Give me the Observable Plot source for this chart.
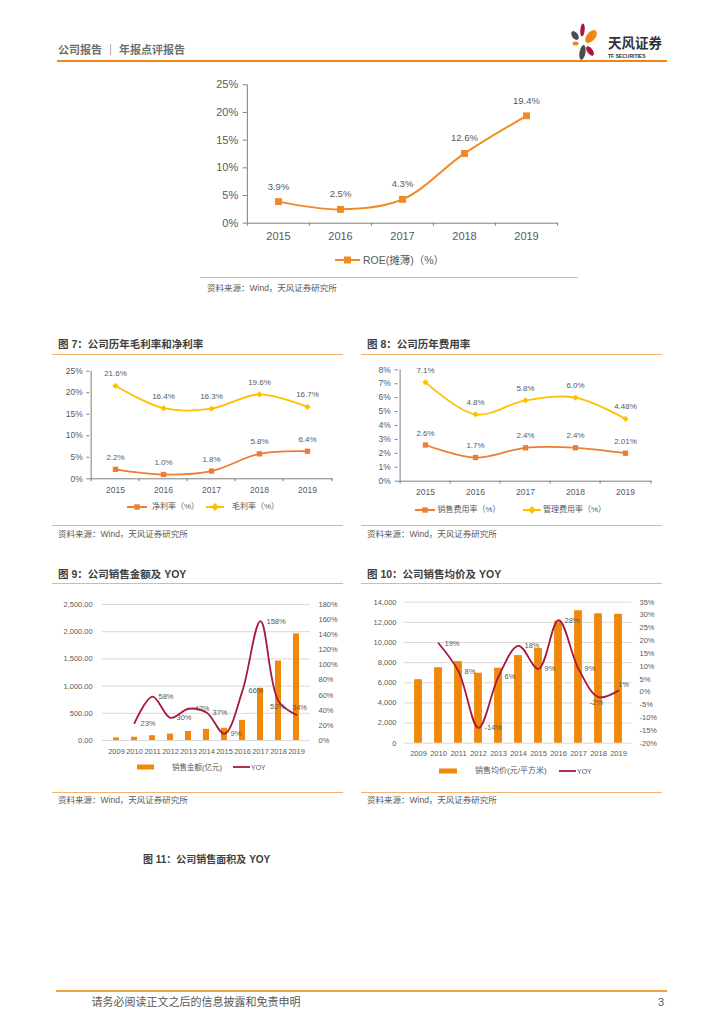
<!DOCTYPE html>
<html><head><meta charset="utf-8">
<script src="https://cdn.jsdelivr.net/npm/d3@7"></script>
<script src="https://cdn.jsdelivr.net/npm/@observablehq/plot@0.6"></script>
<style>
body{margin:0;background:#fff;}
#page{position:relative;width:724px;height:1024px;overflow:hidden;background:#fff;font-family:"Liberation Sans","Noto Sans CJK SC",sans-serif;}
.t{position:absolute;white-space:nowrap;}
</style></head>
<body><div id="page"></div>
<script>
// ---------- data ----------
const roeYears = ["2015","2016","2017","2018","2019"];
const roeValues = [3.9, 2.5, 4.3, 12.6, 19.4];
const roeTicks = [0,5,10,15,20,25];

const marginYears = ["2015","2016","2017","2018","2019"];
const netMargin = [2.2, 1.0, 1.8, 5.8, 6.4];
const grossMargin = [21.6, 16.4, 16.3, 19.6, 16.7];
const marginTicks = [0,5,10,15,20,25];

const expenseYears = ["2015","2016","2017","2018","2019"];
const sellingRate = [2.6, 1.7, 2.4, 2.4, 2.01];
const adminRate = [7.1, 4.8, 5.8, 6.0, 4.48];
const expenseTicks = [0,1,2,3,4,5,6,7,8];

const salesYears = ["2009","2010","2011","2012","2013","2014","2015","2016","2017","2018","2019"];
const salesAmount = [48, 60, 88, 118, 165, 205, 225, 370, 960, 1460, 1960];
const salesYoy = [null, 23, 58, 30, 42, 37, 9, 66, 158, 52, 34];
const salesLeftTicks = [0,500,1000,1500,2000,2500];
const salesRightTicks = [0,20,40,60,80,100,120,140,160,180];

const priceYears = ["2009","2010","2011","2012","2013","2014","2015","2016","2017","2018","2019"];
const avgPrice = [6300, 7500, 8100, 6950, 7450, 8700, 9400, 12100, 13150, 12850, 12800];
const priceYoy = [null, 19, 8, -14, 6, 18, 9, 28, 9, -2, 0.5];
const priceLeftTicks = [0,2000,4000,6000,8000,10000,12000,14000];
const priceRightTicks = [-20,-15,-10,-5,0,5,10,15,20,25,30,35];

// ---------- style ----------
const FONT = '"Liberation Sans","Noto Sans CJK SC",sans-serif';
const TEXT = "#595959";
const AXIS = "#7f7f7f";
const ORANGE = "#F08A24";
const ORANGE2 = "#ED7D31";
const YELLOW = "#FFC000";
const BAR = "#F0880A";
const RED = "#A8183F";
const SEP = "#F6B173";

const page = document.getElementById("page");
function txt(s, x, yc, size, o = {}) {
  const d = document.createElement("div");
  d.className = "t"; d.textContent = s;
  d.style.fontSize = size + "px"; d.style.lineHeight = size + "px";
  d.style.top = (yc - size / 2) + "px";
  if (o.anchor === "end") d.style.right = (724 - x) + "px"; else d.style.left = x + "px";
  d.style.color = o.color || TEXT;
  if (o.bold) d.style.fontWeight = "bold";
  page.appendChild(d); return d;
}
function hline(x1, x2, y, w, color) {
  const d = document.createElement("div");
  Object.assign(d.style, {position:"absolute", left:x1+"px", top:(y-w/2)+"px", width:(x2-x1)+"px", height:w+"px", background:color});
  page.appendChild(d);
}
function place(node, x, y) {
  node.style.position = "absolute"; node.style.left = x + "px"; node.style.top = y + "px";
  page.appendChild(node);
}
function swatch(x, yc, w, kind, color) {
  const s = d3.create("svg").attr("width", w).attr("height", 12);
  if (kind === "rect") {
    s.append("rect").attr("x", 0).attr("y", 3.5).attr("width", w).attr("height", 5).attr("fill", color);
  } else {
    s.append("line").attr("x1", 0).attr("x2", w).attr("y1", 6).attr("y2", 6).attr("stroke", color).attr("stroke-width", kind === "line" ? 1.8 : 2);
    if (kind === "square") s.append("rect").attr("x", w/2-3.5).attr("y", 2.5).attr("width", 7).attr("height", 7).attr("fill", color);
    if (kind === "square-s") s.append("rect").attr("x", w/2-2.7).attr("y", 3.3).attr("width", 5.4).attr("height", 5.4).attr("fill", color);
    if (kind === "diamond") s.append("path").attr("d", `M${w/2},2 L${w/2+4},6 L${w/2},10 L${w/2-4},6Z`).attr("fill", color);
  }
  place(s.node(), x, yc - 6);
}
function boundaryTicks(cats, step, len) {
  return [
    Plot.ruleX(cats, {x: d => d, y1: 0, y2: 0, insetBottom: -len, dx: -step/2, stroke: AXIS}),
    Plot.ruleX(cats.slice(-1), {x: d => d, y1: 0, y2: 0, insetBottom: -len, dx: step/2, stroke: AXIS})
  ];
}

// ---------- header ----------
txt("公司报告 ｜ 年报点评报告", 58, 50, 11, {bold: true, color: "#6f6f6f"});
hline(57, 667, 61, 2, "#F08519");
{
  const s = d3.create("svg").attr("width", 45).attr("height", 45);
  const g = s.append("g").attr("transform", "translate(-565,-20)");
  const petals = [
    [575, 35.5, 3, 5, -35, "#4D4D4D"],
    [582.5, 30, 2.2, 6.5, 5, "#A8183C"],
    [591, 36.5, 4.3, 7.5, 40, "#F08519"],
    [575.5, 43.5, 3, 2, 0, "#F08519"],
    [582.5, 52.5, 3, 7.5, 10, "#4D4D4D"],
    [590, 51, 2.8, 5.5, -35, "#A8183C"]
  ];
  for (const [cx, cy, rx, ry, rot, c] of petals)
    g.append("ellipse").attr("cx", cx).attr("cy", cy).attr("rx", rx).attr("ry", ry)
      .attr("transform", `rotate(${rot},${cx},${cy})`).attr("fill", c);
  place(s.node(), 565, 20);
}
txt("天风证券", 608, 44, 13.5, {bold: true, color: "#333"});
txt("TF SECURITIES", 608, 56.5, 5, {bold: true, color: "#333"});

// ---------- chart 1: ROE ----------
{
  const W = 380, H = 180, mL = 46.7, mR = 22, mT = 14.3, mB = 27.3;
  const step = (W - mL - mR) / roeYears.length;
  const data = roeYears.map((year, i) => ({year, v: roeValues[i]}));
  const svg = Plot.plot({
    width: W, height: H, marginLeft: mL, marginRight: mR, marginTop: mT, marginBottom: mB,
    style: {fontFamily: FONT, color: TEXT, background: "transparent", overflow: "visible"},
    x: {type: "band", domain: roeYears, padding: 0},
    y: {domain: [0, 25]},
    marks: [
      Plot.axisY(roeTicks, {tickFormat: d => d + "%", tickSize: 4, tickPadding: 5, fontSize: 11, stroke: AXIS, label: null}),
      Plot.axisX({tickSize: 0, tickPadding: 9, fontSize: 11, label: null}),
      Plot.ruleY([0], {stroke: AXIS}),
      Plot.ruleX(roeYears.slice(0, 1), {x: d => d, dx: -step/2, stroke: AXIS}),
      ...boundaryTicks(roeYears, step, 3),
      Plot.line(data, {x: "year", y: "v", curve: "catmull-rom", stroke: ORANGE, strokeWidth: 2}),
      Plot.dot(data, {x: "year", y: "v", symbol: "square", r: 3.9, fill: ORANGE}),
      Plot.text(data, {x: "year", y: "v", text: d => d.v.toFixed(1) + "%", dy: -15, fontSize: 9.5, fill: TEXT})
    ]
  });
  place(svg, 200, 70);
  swatch(335, 260, 25, "square", ORANGE);
  txt("ROE(摊薄)（%）", 363, 260, 10.5);
  hline(200, 578, 277.7, 1.3, SEP);
  txt("资料来源：Wind，天风证券研究所", 207, 288.5, 8.5);
}

// ---------- line charts 7 & 8 ----------
function lineChart({left, top, W, H, mL, mR, mT, mB, years, series, yMax, yTicks, tickPad}) {
  const step = (W - mL - mR) / years.length;
  const marks = [
    Plot.axisY(yTicks, {tickFormat: d => d + "%", tickSize: 3, tickPadding: tickPad, fontSize: 8.5, stroke: AXIS, label: null}),
    Plot.axisX({tickSize: 0, tickPadding: 8, fontSize: 8.5, label: null}),
    Plot.ruleY([0], {stroke: AXIS}),
    Plot.ruleX(years.slice(0, 1), {x: d => d, dx: -step/2, stroke: AXIS}),
    ...boundaryTicks(years, step, 3)
  ];
  for (const s of series) {
    const data = years.map((year, i) => ({year, v: s.values[i]}));
    marks.push(
      Plot.line(data, {x: "year", y: "v", curve: "catmull-rom", stroke: s.color, strokeWidth: 1.8}),
      Plot.dot(data, {x: "year", y: "v", symbol: s.symbol, r: s.r, fill: s.color}),
      Plot.text(data, {x: "year", y: "v", text: d => s.fmt(d.v) + "%", dy: -12, fontSize: 8, fill: TEXT})
    );
  }
  const svg = Plot.plot({
    width: W, height: H, marginLeft: mL, marginRight: mR, marginTop: mT, marginBottom: mB,
    style: {fontFamily: FONT, color: TEXT, background: "transparent", overflow: "visible"},
    x: {type: "band", domain: years, padding: 0},
    y: {domain: [0, yMax]},
    marks
  });
  place(svg, left, top);
}
const fmtRate = v => (Math.abs(Math.round(v * 10) - v * 10) < 1e-9 ? v.toFixed(1) : v.toFixed(2));

txt("图 7：公司历年毛利率和净利率", 58, 344, 10.5, {bold: true, color: "#404040"});
hline(52, 343, 354.5, 1.3, SEP);
lineChart({left: 50, top: 360, W: 293, H: 135, mL: 39.3, mR: 10, mT: 10.7, mB: 16.7,
  years: marginYears, yMax: 25, yTicks: marginTicks, tickPad: 4,
  series: [
    {values: netMargin, color: ORANGE2, symbol: "square", r: 3, fmt: fmtRate},
    {values: grossMargin, color: YELLOW, symbol: "diamond2", r: 2.8, fmt: fmtRate}
  ]});
swatch(127, 506.7, 20, "square-s", ORANGE2);
txt("净利率（%）", 152, 506.7, 8);
swatch(206, 506.7, 18, "diamond", YELLOW);
txt("毛利率（%）", 232, 506.7, 8);
hline(52, 343, 525.7, 1.3, SEP);
txt("资料来源：Wind，天风证券研究所", 58, 534.5, 8.5);

txt("图 8：公司历年费用率", 367, 344, 10.5, {bold: true, color: "#404040"});
hline(361, 662, 354.5, 1.3, SEP);
lineChart({left: 360, top: 360, W: 305, H: 135, mL: 37.7, mR: 13.3, mT: 9.3, mB: 14.3,
  years: expenseYears, yMax: 8, yTicks: expenseTicks, tickPad: 4.5,
  series: [
    {values: sellingRate, color: ORANGE2, symbol: "square", r: 3, fmt: fmtRate},
    {values: adminRate, color: YELLOW, symbol: "diamond2", r: 2.8, fmt: fmtRate}
  ]});
swatch(415, 510, 20, "square-s", ORANGE2);
txt("销售费用率（%）", 437.5, 510, 8);
swatch(523, 510, 18, "diamond", YELLOW);
txt("管理费用率（%）", 543, 510, 8);
hline(361, 662, 525.7, 1.3, SEP);
txt("资料来源：Wind，天风证券研究所", 367, 534.5, 8.5);

// ---------- bar + yoy charts 9 & 10 ----------
function barYoy({left, top, W, H, mL, mR, mT, mB, years, bars, yoy, leftTicks, leftFmt, rightTicks, padL, padR, padX, inset, xfs, special}) {
  const lMax = leftTicks[leftTicks.length - 1];
  const rMin = rightTicks[0], rMax = rightTicks[rightTicks.length - 1];
  const toLeft = v => (v - rMin) / (rMax - rMin) * lMax;
  const fromLeft = v => Math.round(v / lMax * (rMax - rMin) + rMin);
  const data = years.map((year, i) => ({i, year, b: bars[i], r: yoy[i]}));
  const lineData = data.filter(d => d.r != null);
  const n = years.length;
  const lab = d => Math.round(d.r) + "%";
  const marks = [
    Plot.gridY(leftTicks, {stroke: "#d9d9d9", strokeOpacity: 1}),
    Plot.axisY(leftTicks, {tickFormat: leftFmt, tickSize: 0, tickPadding: padL, fontSize: 7.5, label: null}),
    Plot.axisY(rightTicks.map(toLeft), {anchor: "right", tickFormat: v => fromLeft(v) + "%", tickSize: 0, tickPadding: padR, fontSize: 7.5, label: null}),
    Plot.axisX({tickSize: 0, tickPadding: padX, fontSize: xfs, label: null}),
    Plot.barY(data, {x: "year", y: "b", fill: BAR, insetLeft: inset, insetRight: inset}),
    Plot.line(lineData, {x: "year", y: d => toLeft(d.r), curve: "catmull-rom", stroke: RED, strokeWidth: 1.8}),
    Plot.text(lineData.filter(d => d.i < n - 2), {x: "year", y: d => toLeft(d.r), text: lab, textAnchor: "start", dx: 6, fontSize: 7.5, fill: TEXT}),
    Plot.text(lineData.filter(d => d.i === n - 2), {x: "year", y: d => toLeft(d.r), text: lab, dx: special[0][0], dy: special[0][1], fontSize: 7.5, fill: TEXT}),
    Plot.text(lineData.filter(d => d.i === n - 1), {x: "year", y: d => toLeft(d.r), text: lab, dx: special[1][0], dy: special[1][1], fontSize: 7.5, fill: TEXT})
  ];
  const svg = Plot.plot({
    width: W, height: H, marginLeft: mL, marginRight: mR, marginTop: mT, marginBottom: mB,
    style: {fontFamily: FONT, color: TEXT, background: "transparent", overflow: "visible"},
    x: {type: "band", domain: years, padding: 0},
    y: {domain: [0, lMax]},
    marks
  });
  place(svg, left, top);
}

txt("图 9：公司销售金额及 YOY", 58, 574, 10.5, {bold: true, color: "#404040"});
hline(52, 343, 583.3, 1.3, SEP);
barYoy({left: 50, top: 590, W: 293, H: 170, mL: 51.7, mR: 33, mT: 14, mB: 20,
  years: salesYears, bars: salesAmount, yoy: salesYoy,
  leftTicks: salesLeftTicks, leftFmt: d3.format(",.2f"), rightTicks: salesRightTicks,
  padL: 9.5, padR: 8, padX: 8, inset: 6, xfs: 7.5, special: [[-1, 5], [3, -7]]});
swatch(137, 767.3, 17, "rect", BAR);
txt("销售金额(亿元)", 172, 767.3, 7.5);
swatch(233, 767.3, 17, "line", RED);
txt("YOY", 251, 767.3, 7);
hline(52, 343, 792.3, 1.3, SEP);
txt("资料来源：Wind，天风证券研究所", 58, 800.5, 8.5);

txt("图 10：公司销售均价及 YOY", 367, 574, 10.5, {bold: true, color: "#404040"});
hline(361, 662, 583.3, 1.3, SEP);
barYoy({left: 360, top: 590, W: 305, H: 170, mL: 44, mR: 33.3, mT: 11.7, mB: 17.3,
  years: priceYears, bars: avgPrice, yoy: priceYoy,
  leftTicks: priceLeftTicks, leftFmt: d3.format(","), rightTicks: priceRightTicks,
  padL: 8, padR: 7.3, padX: 7.4, inset: 6.1, xfs: 7.5, special: [[-2, 6], [5, -6]]});
swatch(439, 771, 18, "rect", BAR);
txt("销售均价(元/平方米)", 475, 771, 8);
swatch(559, 771, 17, "line", RED);
txt("YOY", 577, 771, 7);
hline(361, 662, 792.3, 1.3, SEP);
txt("资料来源：Wind，天风证券研究所", 367, 800.5, 8.5);

// ---------- chart 11 title ----------
txt("图 11：公司销售面积及 YOY", 143, 860, 10, {bold: true, color: "#404040"});

// ---------- footer ----------
hline(56, 667, 991, 2, "#F2A23A");
txt("请务必阅读正文之后的信息披露和免责申明", 91.5, 1002, 11);
txt("3", 664, 1002, 11, {anchor: "end"});
</script>
</body></html>
